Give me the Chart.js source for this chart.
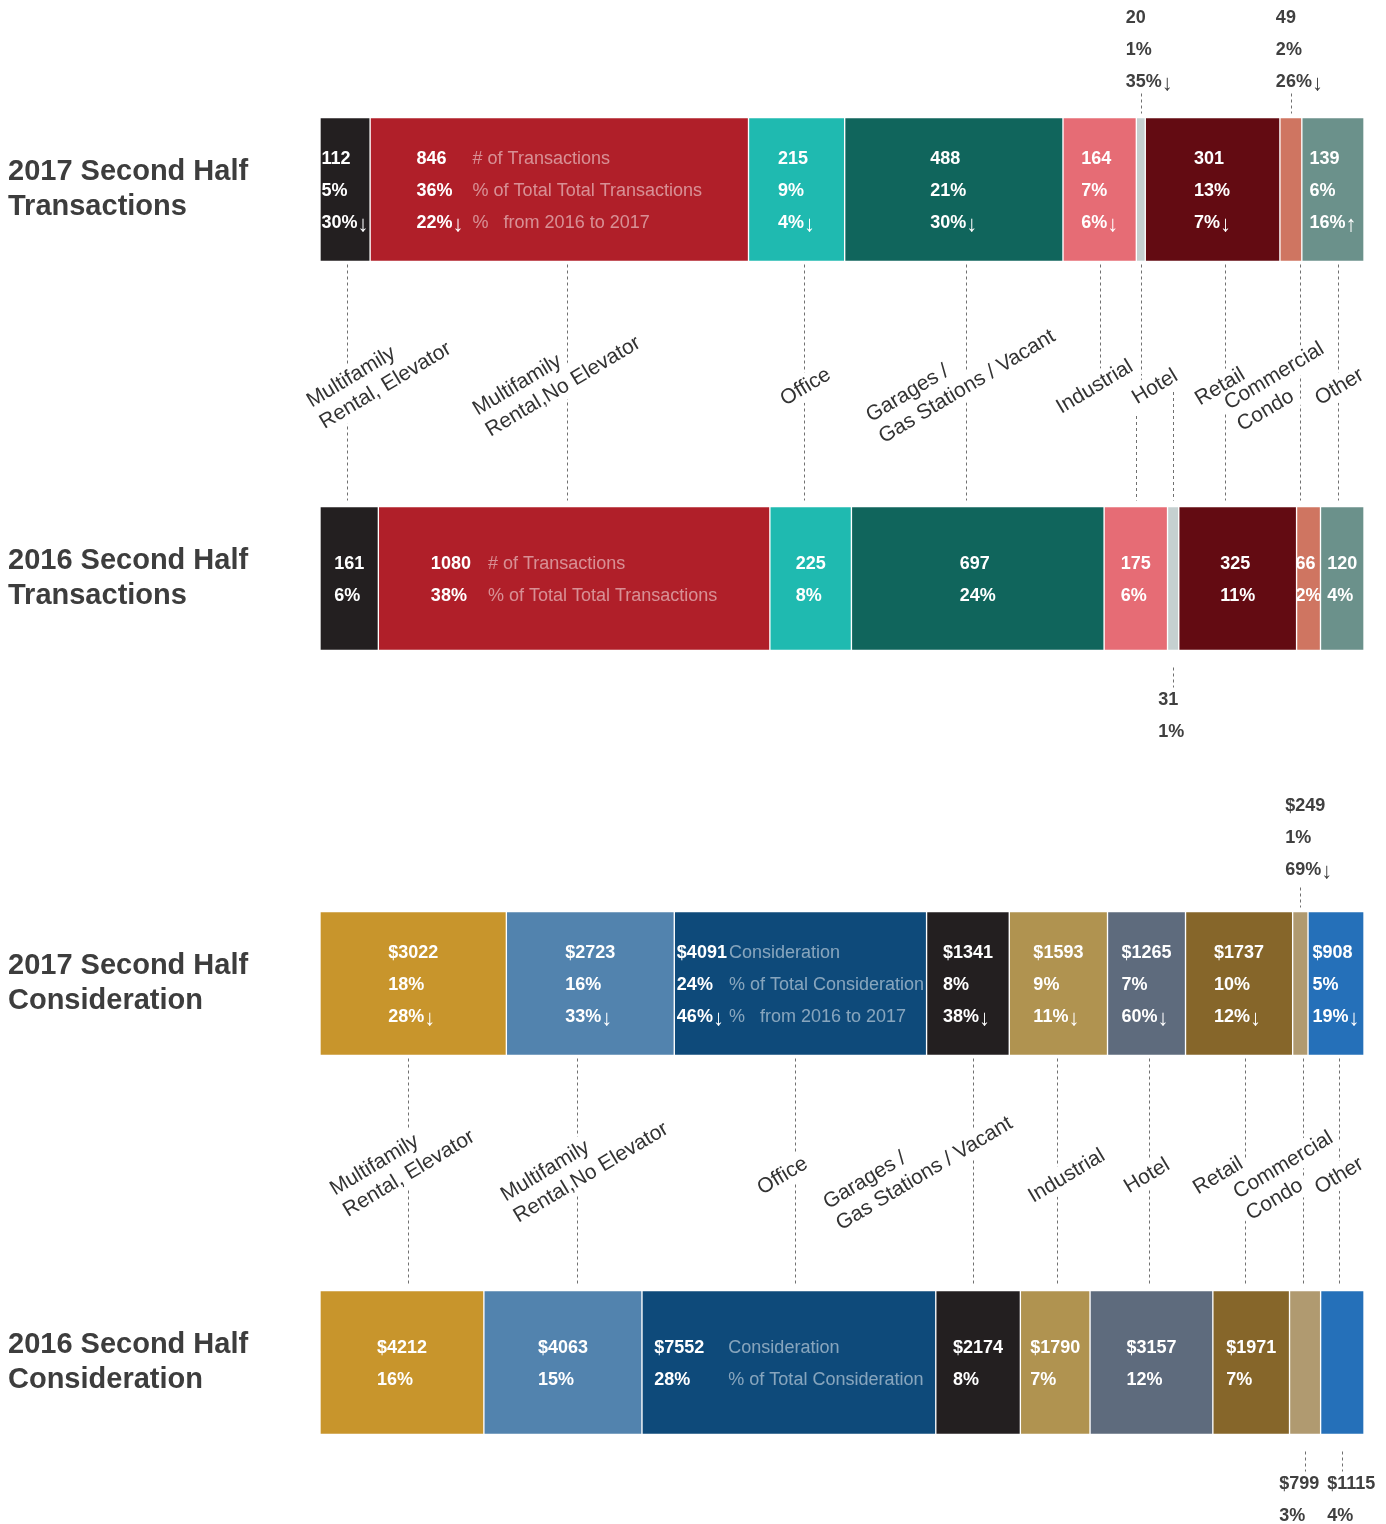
<!DOCTYPE html>
<html>
<head>
<meta charset="utf-8">
<script src="https://cdn.jsdelivr.net/npm/chart.js@4.4.1/dist/chart.umd.min.js"></script>
<style>
  html, body { margin: 0; padding: 0; background: #fff; overflow: hidden; width: 1386px; height: 1524px; }
  canvas { position: absolute; left: 0; }
  #transChart { top: -5px; }
  #consChart { top: 794px; }
</style>
</head>
<body>
<canvas id="transChart" width="1386" height="778"></canvas>
<canvas id="consChart" width="1386" height="758"></canvas>
<script>
var FONT = '"Liberation Sans", Arial, Helvetica, sans-serif';

var categories = ['Multifamily\nRental, Elevator', 'Multifamily\nRental,No Elevator', 'Office',
  'Garages /\nGas Stations / Vacant', 'Industrial', 'Hotel', 'Retail', 'Commercial\nCondo', 'Other'];

var transTitles = [['2017 Second Half', 'Transactions'], ['2016 Second Half', 'Transactions']];
var trans2017 = [112, 846, 215, 488, 164, 20, 301, 49, 139];
var transShare2017 = [5, 36, 9, 21, 7, 1, 13, 2, 6];
var transChange = [-30, -22, -4, -30, -6, -35, -7, -26, 16];
var trans2016 = [161, 1080, 225, 697, 175, 31, 325, 66, 120];
var transShare2016 = [6, 38, 8, 24, 6, 1, 11, 2, 4];
var transNotes = ['# of Transactions', '% of Total Total Transactions', '%   from 2016 to 2017'];

var consTitles = [['2017 Second Half', 'Consideration'], ['2016 Second Half', 'Consideration']];
var cons2017 = [3022, 2723, 4091, 1341, 1593, 1265, 1737, 249, 908];
var consShare2017 = [18, 16, 24, 8, 9, 7, 10, 1, 5];
var consChange = [-28, -33, -46, -38, -11, -60, -12, -69, -19];
var cons2016 = [4212, 4063, 7552, 2174, 1790, 3157, 1971, 799, 1115];
var consShare2016 = [16, 15, 28, 8, 7, 12, 7, 3, 4];
var consNotes = ['Consideration', '% of Total Consideration', '%   from 2016 to 2017'];

var transColors = ['#231f20', '#b01f29', '#1fbab0', '#10655c', '#e66c75', '#c5d0d0', '#630b12', '#cf7561', '#6b918b'];
var consColors = ['#c8952c', '#5283ae', '#0e4a7a', '#231f20', '#b09350', '#5e6b7d', '#86662a', '#b09a70', '#2570b9'];

function total(a) { return a.reduce(function (s, v) { return s + v; }, 0); }

function lineWidth(ctx, line) {
  ctx.font = 'bold 18px ' + FONT;
  var w = ctx.measureText(line.main).width;
  if (line.tail) { ctx.font = '22px ' + FONT; w += ctx.measureText(line.tail).width; }
  return w;
}

function drawLine(ctx, line, x, y, color) {
  ctx.fillStyle = color;
  ctx.font = 'bold 18px ' + FONT;
  ctx.fillText(line.main, x, y);
  if (line.tail) {
    var w = ctx.measureText(line.main).width;
    ctx.font = '22px ' + FONT;
    ctx.fillText(line.tail, x + w, y + 1);
  }
}

function makeAnnotator(cfg) {
  return {
    id: 'annotator',
    afterDraw: function (chart) {
      var ctx = chart.ctx;
      var segs = [[], []];
      chart.data.datasets.forEach(function (ds, k) {
        var el = chart.getDatasetMeta(k).data[ds.row];
        var p = el.getProps(['x', 'y', 'base', 'height'], true);
        segs[ds.row][ds.cat] = {
          left: Math.min(p.x, p.base), right: Math.max(p.x, p.base),
          top: p.y - p.height / 2, bottom: p.y + p.height / 2, cy: p.y,
          cx: (p.x + p.base) / 2
        };
      });

      ctx.save();
      ctx.textBaseline = 'middle';
      ctx.textAlign = 'left';

      // leader lines between the two bars
      var labelY = (segs[0][0].bottom + segs[1][0].top) / 2 + 3;
      ctx.strokeStyle = '#707070';
      ctx.lineWidth = 1;
      ctx.setLineDash([3, 3]);
      categories.forEach(function (c, i) {
        var a = segs[0][i], b = segs[1][i];
        ctx.beginPath();
        if (Math.abs(a.cx - b.cx) < 30) {
          var xm = Math.round((a.cx + b.cx) / 2) + 0.5;
          ctx.moveTo(xm, a.bottom + 3);
          ctx.lineTo(xm, b.top - 6);
        } else {
          // the label hides the join, so just two verticals
          var xa = Math.round(a.cx) + 0.5, xb = Math.round(b.cx) + 0.5;
          ctx.moveTo(xa, a.bottom + 3);
          ctx.lineTo(xa, labelY - 5);
          ctx.moveTo(xb, labelY + 5);
          ctx.lineTo(xb, b.top - 6);
        }
        ctx.stroke();
      });
      ctx.setLineDash([]);

      // rotated category labels
      ctx.font = '21px ' + FONT;
      var angle = -31 * Math.PI / 180;
      var placed = categories.map(function (c, i) {
        var lines = c.split('\n');
        var widths = lines.map(function (l) { return ctx.measureText(l).width; });
        return {
          lines: lines, widths: widths, bw: Math.max.apply(null, widths),
          x: (segs[0][i].cx + segs[1][i].cx) / 2 + cfg.labelShift[i],
          y: labelY + cfg.labelLift[i]
        };
      });
      ['mask', 'text'].forEach(function (pass) {
        placed.forEach(function (lb) {
          ctx.save();
          ctx.translate(lb.x, lb.y);
          ctx.rotate(angle);
          lb.lines.forEach(function (l, j) {
            var ly = (j - (lb.lines.length - 1) / 2) * 25;
            if (pass === 'mask') {
              ctx.fillStyle = '#fff';
              ctx.fillRect(-lb.bw / 2 - 5, ly - 13, lb.widths[j] + 10, 26);
            } else {
              ctx.fillStyle = '#333';
              ctx.fillText(l, -lb.bw / 2, ly);
            }
          });
          ctx.restore();
        });
      });

      // value text in and around the segments
      [0, 1].forEach(function (r) {
        var row = cfg.rows[r];
        var outsideList = [];
        categories.forEach(function (c, i) {
          var s = segs[r][i];
          var lines = [{ main: row.prefix + row.values[i] }, { main: row.shares[i] + '%' }];
          if (row.changes) {
            lines.push({ main: Math.abs(row.changes[i]) + '%', tail: row.changes[i] < 0 ? '\u2193' : '\u2191' });
          }
          var w = Math.max.apply(null, lines.map(function (l) { return lineWidth(ctx, l); }));
          if (row.outside.indexOf(i) >= 0) {
            outsideList.push({ s: s, lines: lines, w: w });
            return;
          }
          var notes = i === cfg.notesAt ? cfg.notes.slice(0, lines.length) : null;
          var blockW = w;
          var nw = 0;
          if (notes) {
            ctx.font = '18px ' + FONT;
            nw = Math.max.apply(null, notes.map(function (n) { return ctx.measureText(n).width; }));
            blockW = w + row.noteGap + nw;
          }
          var x0 = s.cx - blockW / 2;
          lines.forEach(function (l, j) {
            var y = s.cy + (j - (lines.length - 1) / 2) * 32 + 2;
            drawLine(ctx, l, x0, y, '#fff');
            if (notes) {
              ctx.font = '18px ' + FONT;
              ctx.fillStyle = 'rgba(255,255,255,0.5)';
              ctx.fillText(notes[j], x0 + w + row.noteGap, y);
            }
          });
        });

        // small segments: labels outside with a short leader
        var rightLimit = 1384;
        outsideList.sort(function (a, b) { return b.s.cx - a.s.cx; });
        outsideList.forEach(function (o) {
          var left = Math.min(o.s.cx - 15, rightLimit - o.w);
          rightLimit = left - 8;
          var xl = Math.round(o.s.cx) + 0.5;
          ctx.strokeStyle = '#707070';
          ctx.setLineDash([3, 3]);
          ctx.beginPath();
          if (r === 0) { ctx.moveTo(xl, o.s.top - 24); ctx.lineTo(xl, o.s.top - 4); }
          else { ctx.moveTo(xl, o.s.bottom + 17); ctx.lineTo(xl, o.s.bottom + 37); }
          ctx.stroke();
          ctx.setLineDash([]);
          o.lines.forEach(function (l, j) {
            var y = r === 0 ? o.s.top - cfg.topGap - (o.lines.length - 1 - j) * 32 : o.s.bottom + 50 + j * 32;
            drawLine(ctx, l, left, y, '#404040');
          });
        });
      });
      ctx.restore();
    }
  };
}

function buildChart(canvasId, titles, colors, cfg) {
  var datasets = [];
  cfg.rows.forEach(function (row, r) {
    row.values.forEach(function (v, i) {
      var data = [null, null];
      data[r] = v;
      datasets.push({
        label: categories[i].replace('\n', ' '),
        data: data,
        xAxisID: r === 0 ? 'x' : 'x2',
        backgroundColor: colors[i],
        borderColor: 'rgba(255,255,255,0.9)',
        borderWidth: 1,
        borderSkipped: false,
        barThickness: 144,
        row: r,
        cat: i
      });
    });
  });

  return new Chart(document.getElementById(canvasId), {
    type: 'bar',
    data: { labels: titles, datasets: datasets },
    options: {
      indexAxis: 'y',
      responsive: false,
      animation: false,
      events: [],
      layout: { padding: { left: 8, right: 22, top: 0, bottom: 0 } },
      plugins: { legend: { display: false }, tooltip: { enabled: false } },
      scales: {
        x: { display: false, stacked: true, min: 0, max: total(cfg.rows[0].values) },
        x2: { display: false, stacked: true, min: 0, max: total(cfg.rows[1].values) },
        y: {
          stacked: true,
          grid: { display: false },
          border: { display: false },
          ticks: {
            color: '#3d3d3d',
            crossAlign: 'far',
            font: { family: FONT, size: 29, weight: 'bold', lineHeight: 1.22 }
          },
          afterFit: function (scale) {
            scale.width = 312;
            scale.paddingTop = 0;
            scale.paddingBottom = 0;
          }
        }
      }
    },
    plugins: [makeAnnotator(cfg)]
  });
}

var transChart = buildChart('transChart', transTitles, transColors, {
  rows: [
    { values: trans2017, shares: transShare2017, changes: transChange, prefix: '', outside: [5, 7], noteGap: 9 },
    { values: trans2016, shares: transShare2016, changes: null, prefix: '', outside: [5], noteGap: 17 }
  ],
  notes: transNotes,
  notesAt: 1,
  topGap: 35,
  labelShift: [32, -10, 2, -5, -23, -2, -5, -19, 2],
  labelLift: [-12, -11, 0, -11, 0, 0, 0, 0, 0]
});

var consChart = buildChart('consChart', consTitles, consColors, {
  rows: [
    { values: cons2017, shares: consShare2017, changes: consChange, prefix: '$', outside: [7], noteGap: 2 },
    { values: cons2016, shares: consShare2016, changes: null, prefix: '$', outside: [7, 8], noteGap: 24 }
  ],
  notes: consNotes,
  notesAt: 2,
  topGap: 41,
  labelShift: [-5, 8, -12, -55, 10, -2, -27, -13, 0],
  labelLift: [-13, -14, 0, -13, 0, 0, 0, 0, 0]
});
</script>
</body>
</html>
